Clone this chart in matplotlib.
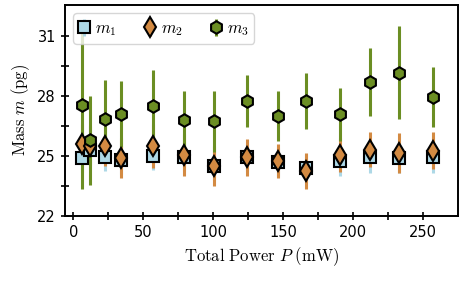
import numpy as np
import matplotlib
matplotlib.use('Agg')
import matplotlib.pyplot as plt

plt.rcParams['mathtext.fontset'] = 'cm'
plt.rcParams['font.family'] = 'DejaVu Sans'

# total power (mW)
power = [6.4, 12.1, 22.9, 33.8, 57.1, 79.1, 100.7, 123.8, 146.2, 166.0, 190.5, 211.7, 233.1, 256.7]

# masses (pg) and errors
m1 = [24.88, 25.30, 24.92, 24.77, 25.00, 24.93, 24.50, 24.95, 24.67, 24.38, 24.72, 24.92, 24.88, 24.93]
m1_err = [0.7, 0.7, 0.7, 0.7, 0.7, 0.7, 0.7, 0.7, 0.7, 0.7, 0.75, 0.8, 0.75, 0.8]
m2 = [25.58, 25.50, 25.47, 24.88, 25.47, 25.05, 24.47, 24.92, 24.75, 24.22, 25.05, 25.30, 25.13, 25.25]
m2_err = [1.0, 1.0, 1.0, 1.0, 1.1, 1.05, 1.0, 0.93, 0.85, 0.9, 0.85, 0.87, 1.0, 0.93]
m3 = [27.55, 25.77, 26.85, 27.10, 27.50, 26.77, 26.72, 27.75, 27.00, 27.73, 27.07, 28.68, 29.17, 27.93]
m3_err = [4.2, 2.25, 1.95, 1.65, 1.8, 1.5, 1.55, 1.3, 1.25, 1.4, 1.35, 1.7, 2.35, 1.5]

fig = plt.figure(figsize=(4.67, 2.89), dpi=100)
ax = fig.add_axes([0.139, 0.253, 0.842, 0.730])

series = [
    (m1, m1_err, 's', 'lightblue', 9, r'$m_1$'),
    (m2, m2_err, 'd', '#d38a42', 10, r'$m_2$'),
    (m3, m3_err, 'h', '#6b8e23', 9, r'$m_3$'),
]

handles = []
for i, (y, e, mk, c, ms, lab) in enumerate(series):
    # error bars underneath, markers on top
    ax.errorbar(power, y, yerr=e, fmt='none', ecolor=c, elinewidth=2.2, capsize=0, zorder=1)
    ax.plot(power, y, ls='none', marker=mk, ms=ms, mfc=c, mec='black', mew=1.5, zorder=3 + i)
    h = ax.errorbar([], [], yerr=[], fmt=mk, ms=ms, mfc=c, mec='black', mew=1.5,
                    ecolor=c, elinewidth=2.2, capsize=0, label=lab)
    handles.append(h)

ax.set_xlim(-6, 275)
ax.set_ylim(22, 32.55)
ax.set_xticks([0, 50, 100, 150, 200, 250])
ax.set_xticks(np.arange(0, 275, 25), minor=True)
ax.set_yticks([22, 25, 28, 31])
ax.set_yticks(np.arange(22, 32.5, 1.5), minor=True)
ax.tick_params(which='both', direction='inout', length=6, width=1.2, labelsize=10.5)
for s in ax.spines.values():
    s.set_linewidth(1.4)

ax.set_xlabel(r'$\mathrm{Total\ Power}\ P\ \mathrm{(mW)}$', fontsize=12)
ax.set_ylabel(r'$\mathrm{Mass}\ m\ \mathrm{(pg)}$', fontsize=12)

leg = ax.legend(handles=handles, loc='upper left', ncol=3, fontsize=12,
                handlelength=0.6, handletextpad=0.35, columnspacing=1.7,
                borderpad=0.35, framealpha=0.8)

fig.savefig('out.png', dpi=100)
